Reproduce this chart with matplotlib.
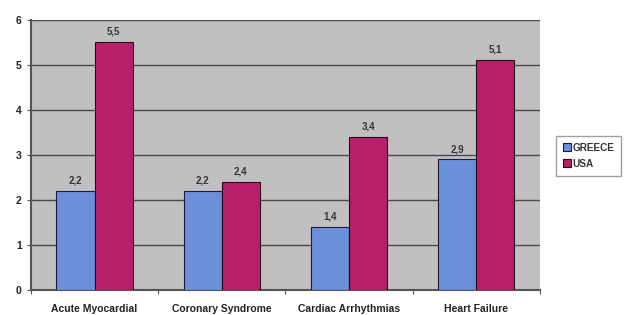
import numpy as np
import matplotlib
matplotlib.use("Agg")
import matplotlib.pyplot as plt

categories = ["Acute Myocardial", "Coronary Syndrome", "Cardiac Arrhythmias", "Heart Failure"]
greece = [2.2, 2.2, 1.4, 2.9]
usa = [5.5, 2.4, 3.4, 5.1]
series_names = ["GREECE", "USA"]

plt.rcParams['font.family'] = ['Liberation Sans', 'DejaVu Sans']

fig = plt.figure(figsize=(6.3, 3.15), dpi=100)
ax = fig.add_axes([0.049, 0.079, 0.808, 0.858])
ax.set_facecolor("#c0c0c0")

x = np.arange(len(categories))
w = 0.3
b1 = ax.bar(x - w/2, greece, w, color="#6b8fd8", edgecolor="#1a1a3a", linewidth=0.8,
            label=series_names[0], zorder=3)
b2 = ax.bar(x + w/2, usa, w, color="#b52068", edgecolor="#2a0a1a", linewidth=0.8,
            label=series_names[1], zorder=3)

for bars, vals in ((b1, greece), (b2, usa)):
    for r, v in zip(bars, vals):
        ax.text(r.get_x() + r.get_width()/2, v + 0.12, ("%.1f" % v).replace(".", ","),
                ha="center", va="bottom", fontsize=7, fontweight="bold", color="#333333")

ax.set_xlim(-0.5, len(categories) - 0.5)
ax.set_ylim(0, 6)
ax.set_yticks(range(0, 7))
ax.yaxis.grid(True, color="#4a4a4a", linewidth=1.0, zorder=1)
ax.set_xticks(np.arange(len(categories) + 1) - 0.5, minor=False)
ax.set_xticklabels([])
ax.set_xticks(x, minor=True)
ax.set_xticklabels(categories, minor=True, fontsize=7.5, fontweight="bold", color="#222222")
ax.tick_params(axis="x", which="minor", length=0, pad=10)
ax.tick_params(axis="x", which="major", length=3, color="#555555")
ax.tick_params(axis="y", labelsize=7.5, length=3, color="#555555", labelcolor="#222222")
for lbl in ax.get_yticklabels():
    lbl.set_fontweight("bold")

for s in ("top", "right"):
    ax.spines[s].set_visible(False)
ax.spines["left"].set_color("#555555")
ax.spines["bottom"].set_color("#555555")
ax.spines["left"].set_linewidth(1.5)
ax.spines["bottom"].set_linewidth(1.5)

leg = fig.legend(handles=[b1, b2], labels=series_names, loc="upper left",
                 bbox_to_anchor=(0.874, 0.585), fontsize=7.2, frameon=True,
                 fancybox=False, edgecolor="#888888", handlelength=0.8,
                 handleheight=0.8, handletextpad=0.2, borderpad=0.7, labelspacing=0.6)
for t in leg.get_texts():
    t.set_fontweight("bold")
    t.set_color("#333333")

fig.savefig("out.png", dpi=100)
